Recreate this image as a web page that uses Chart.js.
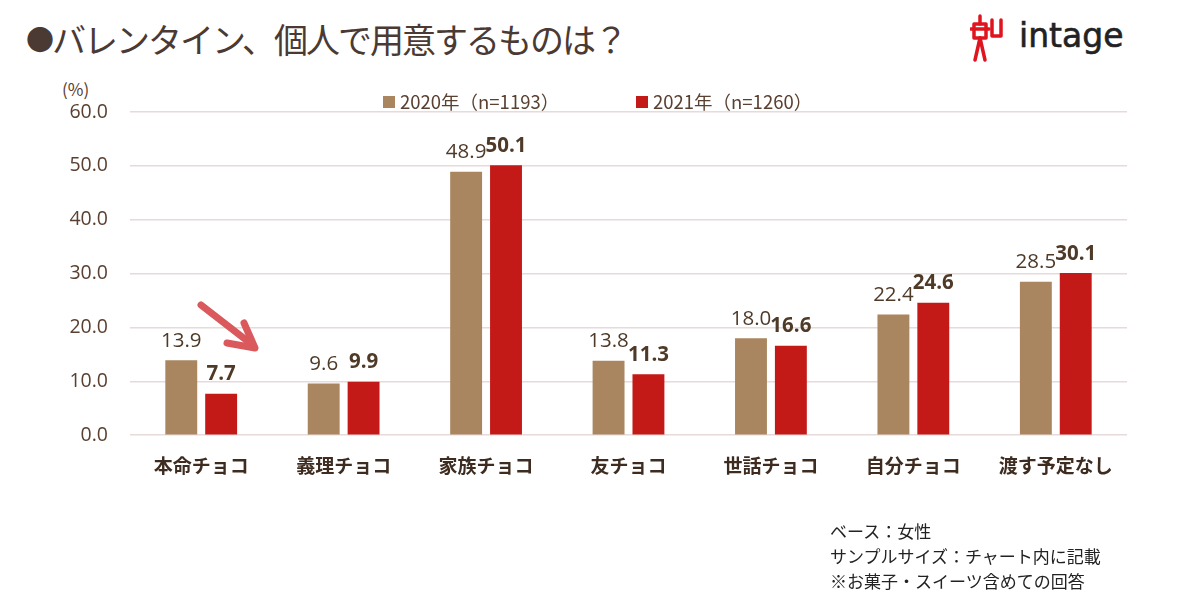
<!DOCTYPE html>
<html lang="ja">
<head>
<meta charset="UTF-8">
<title>バレンタイン、個人で用意するものは？</title>
<script src="https://cdn.jsdelivr.net/npm/chart.js"></script>
<style>
  html, body { margin: 0; padding: 0; background: #fff; }
  body { width: 1184px; height: 608px; position: relative; overflow: hidden;
         font-family: "Noto Sans CJK JP", "Noto Sans", sans-serif; }
  #title { position: absolute; left: 26px; top: 14px; font-size: 34px; color: #4a3a33; white-space: nowrap; letter-spacing: -2px; }
  #title b { font-weight: normal; font-size: 28px; position: relative; top: -2px; }
  #logo { position: absolute; left: 970px; top: 14px; width: 170px; height: 50px; }
  #logo span { position: absolute; left: 49px; top: 2px; font-family: "DejaVu Sans", sans-serif; font-size: 33px; color: #222; -webkit-text-stroke: 0.6px #222; }
  #wrap { position: absolute; left: 0; top: 60px; width: 1150px; height: 428px; }
  #unit { position: absolute; left: 62px; top: 76px; font-size: 17px; color: #5a4030; }
  #note { position: absolute; left: 830px; top: 518px; font-size: 17px; line-height: 25px; color: #222; }
  #arrow { position: absolute; left: 0; top: 0; }
</style>
</head>
<body>
<div id="title"><b>●</b>バレンタイン、個人で用意するものは？</div>
<div id="logo">
  <svg width="40" height="50" viewBox="0 0 40 50">
    <g stroke="#e0141e" stroke-width="3.5" fill="none" stroke-linecap="round" stroke-linejoin="round">
      <line x1="10" y1="2" x2="10" y2="10"/>
      <path d="M4 10 H16 V24 H4 Z"/>
      <line x1="1" y1="15" x2="19" y2="15"/>
      <line x1="10" y1="24" x2="5" y2="46"/>
      <line x1="10" y1="24" x2="15" y2="46"/>
      <path d="M22 6 V22 H31 V6"/>
    </g>
  </svg>
  <span>intage</span>
</div>
<div id="unit">(%)</div>
<div id="wrap"><canvas id="chart"></canvas></div>
<svg id="arrow" width="1184" height="608">
  <line x1="201" y1="305" x2="250" y2="343" stroke="#d9595c" stroke-width="7" stroke-linecap="round"/>
  <polyline points="227,343 255,348 244,323" fill="none" stroke="#d9595c" stroke-width="7" stroke-linecap="round" stroke-linejoin="round"/>
</svg>
<div id="note">ベース：女性<br>サンプルサイズ：チャート内に記載<br>※お菓子・スイーツ含めての回答</div>
<script>
const categories = ['本命チョコ', '義理チョコ', '家族チョコ', '友チョコ', '世話チョコ', '自分チョコ', '渡す予定なし'];
const values2020 = [13.9, 9.6, 48.9, 13.8, 18.0, 22.4, 28.5];
const values2021 = [7.7, 9.9, 50.1, 11.3, 16.6, 24.6, 30.1];
const seriesLabels = ['2020年（n=1193）', '2021年（n=1260）'];
const yTicks = [0, 10, 20, 30, 40, 50, 60];

const textColor = '#5a4030';
const fontFamily = '"Open Sans", "Noto Sans CJK JP", sans-serif';

// value labels above bars: 2020 normal, 2021 bold
const barLabels = {
  id: 'barLabels',
  afterDatasetsDraw(chart) {
    const ctx = chart.ctx;
    ctx.save();
    ctx.fillStyle = '#4f3a28';
    ctx.textAlign = 'center';
    ctx.textBaseline = 'bottom';
    chart.data.datasets.forEach((ds, i) => {
      ctx.font = (i === 1 ? 'bold ' : '') + '20.5px ' + fontFamily;
      chart.getDatasetMeta(i).data.forEach((bar, j) => {
        ctx.fillText(ds.data[j].toFixed(1), bar.x, bar.y - 9);
      });
    });
    ctx.restore();
  }
};

// legend drawn just above the plot
const topLegend = {
  id: 'topLegend',
  afterDraw(chart) {
    const ctx = chart.ctx;
    const area = chart.chartArea;
    const y = area.top - 10;
    const starts = [area.left + 253, area.left + 506];
    ctx.save();
    ctx.font = '18.5px "Noto Sans CJK JP", sans-serif';
    ctx.textBaseline = 'middle';
    chart.data.datasets.forEach((ds, i) => {
      ctx.fillStyle = ds.backgroundColor;
      ctx.fillRect(starts[i], y - 6, 12, 12);
      ctx.fillStyle = textColor;
      ctx.fillText(ds.label, starts[i] + 17, y);
    });
    ctx.restore();
  }
};

new Chart(document.getElementById('chart'), {
  type: 'bar',
  data: {
    labels: categories,
    datasets: [
      { label: seriesLabels[0], data: values2020, backgroundColor: '#a9865f' },
      { label: seriesLabels[1], data: values2021, backgroundColor: '#c41a17' }
    ]
  },
  options: {
    responsive: true,
    maintainAspectRatio: false,
    animation: false,
    categoryPercentage: 0.56,
    barPercentage: 0.8,
    layout: { padding: { top: 52, right: 23, left: 0, bottom: 0 } },
    plugins: { legend: { display: false }, tooltip: { enabled: false } },
    scales: {
      x: {
        grid: { display: false },
        border: { display: false },
        ticks: { color: '#3e2c20', padding: 11, font: { family: '"Noto Sans CJK JP", sans-serif', size: 19, weight: 'bold' } }
      },
      y: {
        min: 0, max: 60,
        afterFit(scale) { scale.width = 130; },
        afterBuildTicks(scale) { scale.ticks = yTicks.map(v => ({ value: v })); },
        grid: { color: '#e6dada', lineWidth: 1.5, drawTicks: false },
        border: { display: false },
        ticks: { color: textColor, padding: 22, font: { family: fontFamily, size: 19.5 }, callback: v => v.toFixed(1) }
      }
    }
  },
  plugins: [barLabels, topLegend]
});
</script>
</body>
</html>
